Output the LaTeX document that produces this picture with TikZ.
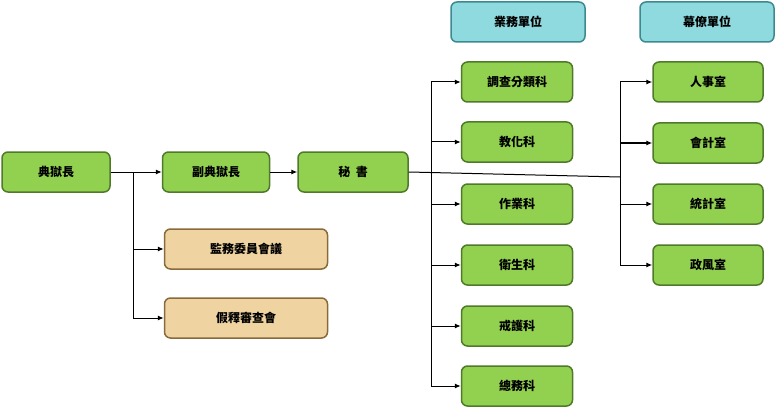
\documentclass[tikz,border=0pt]{standalone}
\usepackage{fontspec}
\newfontfamily\cjk{Noto Sans CJK TC}
\usetikzlibrary{arrows.meta}
\definecolor{gfill}{HTML}{92D050}
\definecolor{gdraw}{HTML}{4E7A2A}
\definecolor{tfill}{HTML}{EFD4A2}
\definecolor{tdraw}{HTML}{8A6A3A}
\definecolor{hfill}{HTML}{8FDADE}
\definecolor{hdraw}{HTML}{3C8A90}
\tikzset{
  x=1pt,y=-1pt,
  base/.style={rounded corners=6pt,line width=1.5pt,font=\cjk\bfseries\fontsize{12}{14}\selectfont,inner sep=0pt,minimum height=40pt},
  gbox/.style={base,fill=gfill,draw=gdraw,minimum width=110pt},
  tbox/.style={base,fill=tfill,draw=tdraw,minimum width=163pt},
  hbox/.style={base,fill=hfill,draw=hdraw,minimum width=134pt},
  conn/.style={line width=1pt,-{Latex[length=6pt,width=5pt]}},
  ln/.style={line width=1pt}
}
\begin{document}
\begin{tikzpicture}
\useasboundingbox (0,0) rectangle (776,409);
\node[gbox,minimum width=108pt] (a) at (56,172) {典獄長};
\node[gbox,minimum width=107pt] (b) at (216,172) {副典獄長};
\node[gbox] (c) at (353,172) {秘\ \ 書};
\node[tbox] (d) at (246,249) {監務委員會議};
\node[tbox] (e) at (246,318) {假釋審查會};
\node[hbox] (h1) at (518,22) {業務單位};
\node[hbox] (h2) at (707,22) {幕僚單位};
\node[gbox,minimum width=111pt] (r1) at (517,82) {調查分類科};
\node[gbox,minimum width=111pt] (r2) at (517,142) {教化科};
\node[gbox,minimum width=111pt] (r3) at (517,204) {作業科};
\node[gbox,minimum width=111pt] (r4) at (517,265) {衛生科};
\node[gbox,minimum width=111pt] (r5) at (517,326) {戒護科};
\node[gbox,minimum width=111pt] (r6) at (517,386) {總務科};
\node[gbox] (s1) at (708,82) {人事室};
\node[gbox] (s2) at (708,143) {會計室};
\node[gbox] (s3) at (708,204) {統計室};
\node[gbox] (s4) at (708,265) {政風室};
\coordinate (j1) at (133,172);
\draw[ln] (a.east) -- (j1);
\draw[conn] (j1) -- (b.west);
\draw[conn] (j1) |- (d.west);
\draw[conn] (j1) |- (e.west);
\draw[conn] (b.east) -- (c.west);
\coordinate (bus1) at (431,172);
\coordinate (bus2) at (620,177);
\draw[ln] (c.east) -- (bus2);
\draw[ln] (431,82) -- (431,386);
\foreach \n in {r1,r2,r3,r4,r5,r6} \draw[conn] (431,0 |- \n.west) -- (\n.west);
\draw[ln] (620,82) -- (620,265);
\foreach \n in {s1,s2,s3,s4} \draw[conn] (620,0 |- \n.west) -- (\n.west);
\end{tikzpicture}
\end{document}
